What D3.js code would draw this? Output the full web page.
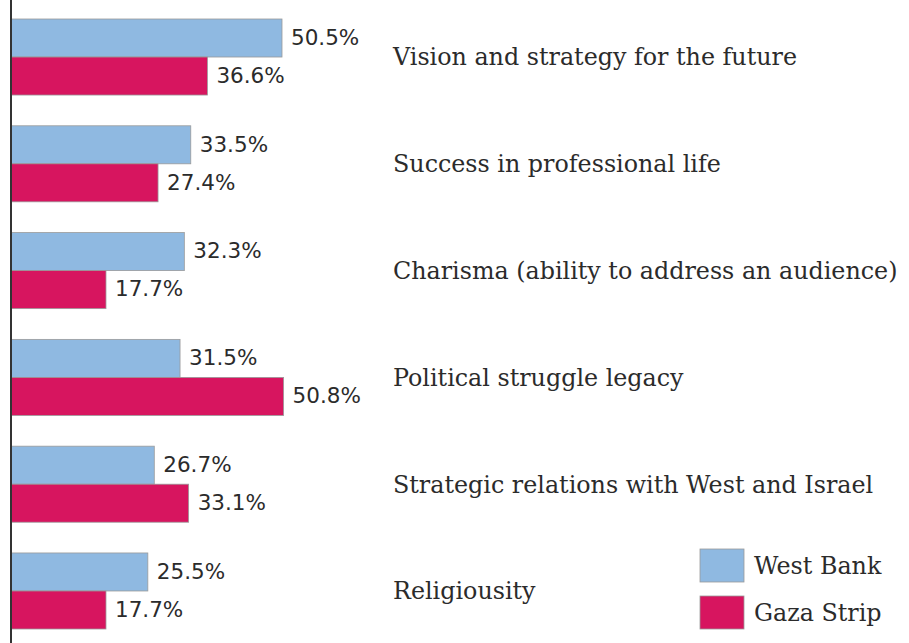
<!DOCTYPE html>
<html>
<head>
<meta charset="utf-8">
<script src="https://cdn.jsdelivr.net/npm/d3@7"></script>
<style>
  body { margin: 0; background: #fff; }
  svg { display: block; }
</style>
</head>
<body>
<svg></svg>
<script>
var categories = [
  "Vision and strategy for the future",
  "Success in professional life",
  "Charisma (ability to address an audience)",
  "Political struggle legacy",
  "Strategic relations with West and Israel",
  "Religiousity"
];
var westBank = [50.5, 33.5, 32.3, 31.5, 26.7, 25.5];
var gazaStrip = [36.6, 27.4, 17.7, 50.8, 33.1, 17.7];
var seriesNames = ["West Bank", "Gaza Strip"];
var seriesColors = ["#8fb9e1", "#d7155f"];

var width = 909, height = 643;
var svg = d3.select("svg").attr("width", width).attr("height", height);

var x0 = 11;
var x = d3.scaleLinear().domain([0, 50.5]).range([x0, 282]);
var y = d3.scaleBand().domain(categories).range([19, 629]).paddingInner(0.288).paddingOuter(0);
var sub = d3.scaleBand().domain(seriesNames).range([0, y.bandwidth()]);

var rows = categories.map(function(c, i) {
  return {cat: c, vals: [westBank[i], gazaStrip[i]]};
});

var g = svg.selectAll("g.row").data(rows).enter().append("g")
  .attr("class", "row")
  .attr("transform", function(d) { return "translate(0," + y(d.cat) + ")"; });

var bars = g.selectAll("g.bar").data(function(d) {
  return d.vals.map(function(v, j) { return {v: v, s: seriesNames[j], j: j}; });
}).enter().append("g").attr("class", "bar");

bars.append("rect")
  .attr("x", x0)
  .attr("y", function(d) { return sub(d.s); })
  .attr("width", function(d) { return x(d.v) - x0; })
  .attr("height", sub.bandwidth())
  .attr("fill", function(d) { return seriesColors[d.j]; })
  .attr("stroke", "#9a9a9a")
  .attr("stroke-width", 0.8);

bars.append("text")
  .attr("x", function(d) { return x(d.v) + 9; })
  .attr("y", function(d) { return sub(d.s) + sub.bandwidth() / 2; })
  .attr("dy", "0.32em")
  .attr("font-family", "DejaVu Sans")
  .attr("font-size", 21.5)
  .attr("fill", "#2b2b2b")
  .text(function(d) { return d.v.toFixed(1) + "%"; });

g.append("text")
  .attr("x", 393)
  .attr("y", y.bandwidth() / 2)
  .attr("dy", "0.35em")
  .attr("font-family", "DejaVu Serif")
  .attr("font-size", 23.8)
  .attr("fill", "#2b2b2b")
  .text(function(d) { return d.cat; });

// vertical axis line
svg.append("line")
  .attr("x1", x0).attr("x2", x0)
  .attr("y1", 0).attr("y2", height)
  .attr("stroke", "#333").attr("stroke-width", 2);

// legend
var legend = svg.selectAll("g.legend").data(seriesNames).enter().append("g")
  .attr("class", "legend")
  .attr("transform", function(d, i) { return "translate(700," + (549 + i * 47) + ")"; });
legend.append("rect")
  .attr("width", 44).attr("height", 33)
  .attr("fill", function(d, i) { return seriesColors[i]; })
  .attr("stroke", "#9a9a9a").attr("stroke-width", 0.8);
legend.append("text")
  .attr("x", 54).attr("y", 17).attr("dy", "0.35em")
  .attr("font-family", "DejaVu Serif")
  .attr("font-size", 23.8)
  .attr("fill", "#2b2b2b")
  .text(function(d) { return d; });
</script>
</body>
</html>
